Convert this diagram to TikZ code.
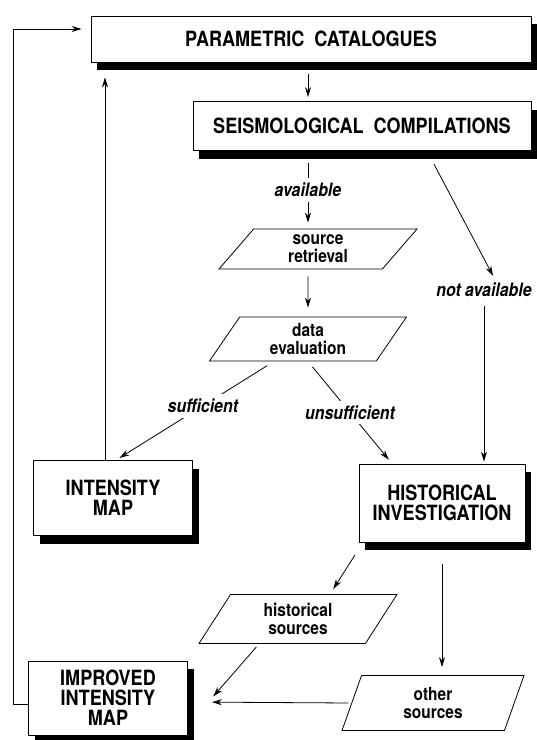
\documentclass[tikz,border=0pt]{standalone}
\usepackage{fontspec}
\setmainfont{TeX Gyre Heros}[FakeStretch=0.86]
\usetikzlibrary{arrows.meta, shapes.geometric, shadows}
\def\boxfont{\fontsize{21}{20}\selectfont\bfseries}

\begin{document}
\begin{tikzpicture}[x=1pt,y=-1pt,line width=0.8pt,-{Stealth[length=10pt,width=6pt]}]
    \tikzstyle{box}=[rectangle, draw, fill=white, align=center, font=\boxfont, -,
        drop shadow={shadow xshift=6pt, shadow yshift=-8pt, fill=black, opacity=1}]
    \tikzstyle{para}=[trapezium, trapezium stretches body, draw, fill=white, align=center,
        inner sep=0pt, font=\fontsize{18}{18}\selectfont\bfseries]
    \tikzstyle{annot}=[fill=white, inner sep=5pt, font=\fontsize{18.5}{18}\selectfont\bfseries\itshape]

    \useasboundingbox (0,0) rectangle (537,740);

    \node[box, minimum width=440pt, minimum height=46pt] (PC) at (311,39) {PARAMETRIC\ \ CATALOGUES};
    \node[box, minimum width=338pt, minimum height=49pt] (SC) at (362,126) {SEISMOLOGICAL\ \ COMPILATIONS};

    \node[para, trapezium left angle=39, trapezium right angle=141, minimum width=198pt, minimum height=40pt] (SR) at (318,249) {source\\retrieval};
    \node[para, trapezium left angle=46, trapezium right angle=134, minimum width=197pt, minimum height=44pt] (DE) at (308,339) {data\\evaluation};

    \node[box, minimum width=159pt, minimum height=75pt] (IM) at (113,498) {INTENSITY\\MAP};
    \node[box, minimum width=166pt, minimum height=78pt] (HI) at (442,503) {HISTORICAL\\INVESTIGATION};
    \node[annot] (NA) at (484,290) {not available};

    \node[para, trapezium left angle=45, trapezium right angle=135, minimum width=198pt, minimum height=49pt] (HS) at (298,619) {historical\\sources};
    \node[para, trapezium left angle=58, trapezium right angle=122, minimum width=182pt, minimum height=55pt] (OS) at (433,703) {other\\sources};
    \node[box, minimum width=159pt, minimum height=74pt] (IIM) at (108,698) {IMPROVED\\INTENSITY\\MAP};

    \draw[shorten <=12pt, shorten >=4pt] (PC.south -| DE) -- (SC.north -| DE);
    \draw[shorten <=12pt, shorten >=6pt] (SC.south -| DE) -- node[annot] {available} (SR.north -| DE);
    \draw[shorten <=7pt, shorten >=9pt] (SR.south -| DE) -- (DE.north);
    \draw[shorten <=8pt, shorten >=4pt] ([xshift=-34pt]DE.south) -- node[annot, pos=0.45] {sufficient} ([xshift=3pt]IM.north);
    \draw[shorten <=7pt, shorten >=5pt] (DE.south) -- node[annot] {unsufficient} ([xshift=-50pt]HI.north);
    \draw[shorten <=15pt, shorten >=2pt] ([xshift=65pt]SC.south) -- ([xshift=10pt]NA.north);
    \draw[shorten <=4pt, shorten >=2pt] (NA.south) -- (NA.south |- HI.north);
    \draw[shorten >=15pt] ([xshift=-8pt]IM.north) -- ([xshift=-8pt]IM.north |- PC.south);
    \draw[shorten >=9pt] ([yshift=-6pt]IIM.west) -- ++(-15,0) |- ([yshift=10pt]PC.west);

    \draw[shorten <=15pt, shorten >=6pt] ([xshift=-79pt]HI.south) -- ([xshift=32pt]HS.north);
    \draw[shorten <=22pt, shorten >=8pt] (HI.south) -- (HI.south |- OS.north);
    \draw[shorten <=4pt, shorten >=2pt] ([xshift=-39pt]HS.south) -- ([xshift=24pt]IIM.east);
    \draw[shorten <=3pt, shorten >=24pt] (OS.west) -- ([yshift=-4pt]IIM.east);
\end{tikzpicture}
\end{document}
